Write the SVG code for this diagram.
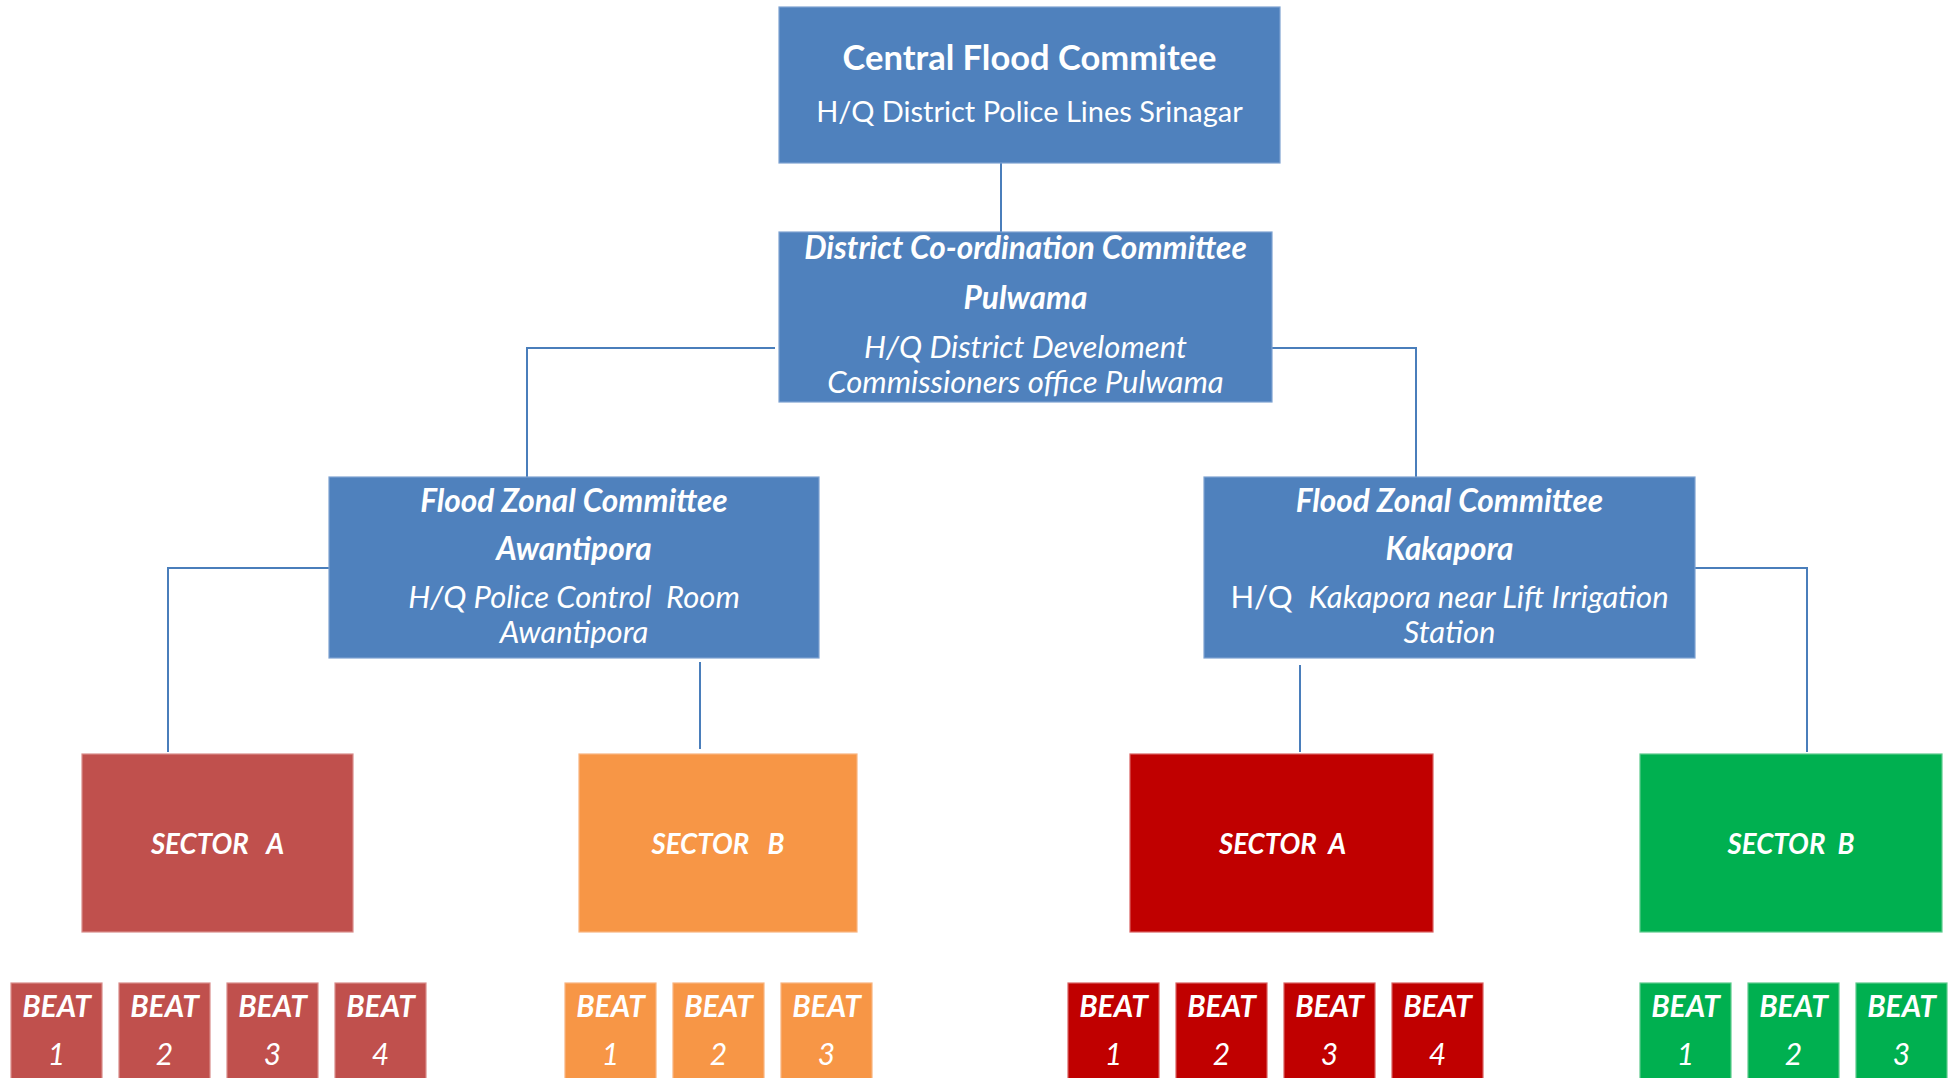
<svg xmlns="http://www.w3.org/2000/svg" width="1948" height="1078" viewBox="0 0 1948 1078">
<style>
text{font-family:Lato,"Open Sans","Liberation Sans",sans-serif;fill:#fff;text-anchor:middle;white-space:pre}
.b{font-weight:bold}
.i{font-style:italic}
.t{font-size:34.5px}
.m{font-size:29px}
.mi{font-size:31px}
.mb{font-size:31.6px}
.s{font-size:27.6px}
.bt{font-size:30px}
.blue{fill:#4F81BD;stroke:#7EA2D1;stroke-width:1.2}
.r1{fill:#C0504D;stroke:#D98C8A;stroke-width:1.2}
.or{fill:#F79646;stroke:#F9B47F;stroke-width:1.2}
.rd{fill:#C00000;stroke:#D96060;stroke-width:1.2}
.gr{fill:#00B050;stroke:#5CCB8C;stroke-width:1.2}
.con path{fill:none;stroke:#4A7EBB;stroke-width:2}
</style>
<g class="con" id="connectors">
<path d="M1001,163V232"/>
<path d="M775,348H527V477"/>
<path d="M1240,348H1416V477"/>
<path d="M329,568H168V752"/>
<path d="M700,662V749"/>
<path d="M1300,665V752"/>
<path d="M1685,568H1807V752"/>
</g>
<g id="central">
<rect class="blue" x="779" y="7" width="501" height="156"/>
<text class="t b" x="1029.5" y="70">Central Flood Commitee</text>
<text class="m" x="1029.5" y="122">H/Q District Police Lines Srinagar</text>
</g>
<g id="district">
<rect class="blue" x="779" y="232" width="493" height="170"/>
<text class="mb b i" x="1025.5" y="259">District Co-ordination Committee</text>
<text class="mb b i" x="1025.5" y="309">Pulwama</text>
<text class="mi i" x="1025.5" y="358">H/Q District Develoment</text>
<text class="mi i" x="1025.5" y="393">Commissioners office Pulwama</text>
</g>
<g id="zone-awantipora">
<rect class="blue" x="329" y="477" width="490" height="181"/>
<text class="mb b i" x="574" y="512">Flood Zonal Committee</text>
<text class="mb b i" x="574" y="560">Awantipora</text>
<text class="mi i" x="574" y="608">H/Q Police Control  Room</text>
<text class="mi i" x="574" y="643">Awantipora</text>
</g>
<g id="zone-kakapora">
<rect class="blue" x="1204" y="477" width="491" height="181"/>
<text class="mb b i" x="1449.5" y="512">Flood Zonal Committee</text>
<text class="mb b i" x="1449.5" y="560">Kakapora</text>
<text class="mi" x="1449.5" y="608">H/Q  <tspan class="i">Kakapora near Lift Irrigation</tspan></text>
<text class="mi i" x="1449.5" y="643">Station</text>
</g>
<g id="sector-a-awantipora">
<rect class="r1" x="82" y="754" width="271" height="178"/>
<text class="s b i" x="217.5" y="854">SECTOR   A</text>
</g>
<g id="sector-b-awantipora">
<rect class="or" x="579" y="754" width="278" height="178"/>
<text class="s b i" x="718" y="854">SECTOR   B</text>
</g>
<g id="sector-a-kakapora">
<rect class="rd" x="1130" y="754" width="303" height="178"/>
<text class="s b i" x="1282.5" y="854">SECTOR  A</text>
</g>
<g id="sector-b-kakapora">
<rect class="gr" x="1640" y="754" width="302" height="178"/>
<text class="s b i" x="1791" y="854">SECTOR  B</text>
</g>
<g id="beat-a1-1"><rect class="r1" x="11" y="983" width="91" height="100"/><text class="bt b i" x="56.5" y="1017">BEAT</text><text class="bt i" x="56.5" y="1065">1</text></g>
<g id="beat-a1-2"><rect class="r1" x="119" y="983" width="91" height="100"/><text class="bt b i" x="164.5" y="1017">BEAT</text><text class="bt i" x="164.5" y="1065">2</text></g>
<g id="beat-a1-3"><rect class="r1" x="227" y="983" width="91" height="100"/><text class="bt b i" x="272.5" y="1017">BEAT</text><text class="bt i" x="272.5" y="1065">3</text></g>
<g id="beat-a1-4"><rect class="r1" x="335" y="983" width="91" height="100"/><text class="bt b i" x="380.5" y="1017">BEAT</text><text class="bt i" x="380.5" y="1065">4</text></g>
<g id="beat-b1-1"><rect class="or" x="565" y="983" width="91" height="100"/><text class="bt b i" x="610.5" y="1017">BEAT</text><text class="bt i" x="610.5" y="1065">1</text></g>
<g id="beat-b1-2"><rect class="or" x="673" y="983" width="91" height="100"/><text class="bt b i" x="718.5" y="1017">BEAT</text><text class="bt i" x="718.5" y="1065">2</text></g>
<g id="beat-b1-3"><rect class="or" x="781" y="983" width="91" height="100"/><text class="bt b i" x="826.5" y="1017">BEAT</text><text class="bt i" x="826.5" y="1065">3</text></g>
<g id="beat-a2-1"><rect class="rd" x="1068" y="983" width="91" height="100"/><text class="bt b i" x="1113.5" y="1017">BEAT</text><text class="bt i" x="1113.5" y="1065">1</text></g>
<g id="beat-a2-2"><rect class="rd" x="1176" y="983" width="91" height="100"/><text class="bt b i" x="1221.5" y="1017">BEAT</text><text class="bt i" x="1221.5" y="1065">2</text></g>
<g id="beat-a2-3"><rect class="rd" x="1284" y="983" width="91" height="100"/><text class="bt b i" x="1329.5" y="1017">BEAT</text><text class="bt i" x="1329.5" y="1065">3</text></g>
<g id="beat-a2-4"><rect class="rd" x="1392" y="983" width="91" height="100"/><text class="bt b i" x="1437.5" y="1017">BEAT</text><text class="bt i" x="1437.5" y="1065">4</text></g>
<g id="beat-b2-1"><rect class="gr" x="1640" y="983" width="91" height="100"/><text class="bt b i" x="1685.5" y="1017">BEAT</text><text class="bt i" x="1685.5" y="1065">1</text></g>
<g id="beat-b2-2"><rect class="gr" x="1748" y="983" width="91" height="100"/><text class="bt b i" x="1793.5" y="1017">BEAT</text><text class="bt i" x="1793.5" y="1065">2</text></g>
<g id="beat-b2-3"><rect class="gr" x="1856" y="983" width="91" height="100"/><text class="bt b i" x="1901.5" y="1017">BEAT</text><text class="bt i" x="1901.5" y="1065">3</text></g>
</svg>
